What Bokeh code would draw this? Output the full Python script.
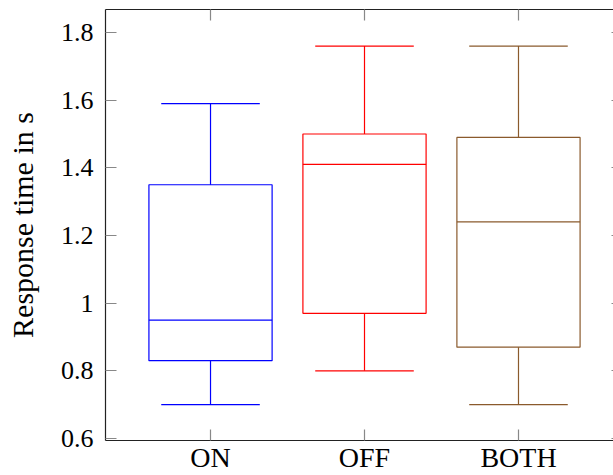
from bokeh.plotting import figure
from bokeh.models import Range1d, LinearAxis, FixedTicker
from bokeh.embed import file_html
from bokeh.resources import INLINE

categories = ["ON", "OFF", "BOTH"]
positions = [1, 2, 3]
lower_whisker = [0.70, 0.80, 0.70]
q1 = [0.83, 0.97, 0.87]
median = [0.95, 1.41, 1.24]
q3 = [1.35, 1.50, 1.49]
upper_whisker = [1.59, 1.76, 1.76]
colors = ["#0000ff", "#ff0000", "#8a5a2c"]
y_ticks = [0.6, 0.8, 1.0, 1.2, 1.4, 1.6, 1.8]
y_tick_labels = ["0.6", "0.8", "1", "1.2", "1.4", "1.6", "1.8"]

FONT = "Liberation Serif"
BOX_W = 0.8
CAP_W = 0.64

p = figure(width=613, height=475, output_backend="svg", toolbar_location=None,
           x_range=Range1d(0.318, 3.617), y_range=Range1d(0.594, 1.868),
           min_border_left=105, min_border_right=0, min_border_top=9,
           min_border_bottom=35, x_axis_location=None, y_axis_location=None)
p.outline_line_color = None
p.xgrid.visible = False
p.ygrid.visible = False
p.background_fill_color = "white"
p.border_fill_color = "white"

for i in range(len(categories)):
    x = positions[i]
    c = colors[i]
    p.vbar(x=[x], top=[q3[i]], bottom=[q1[i]], width=BOX_W,
           fill_color=None, line_color=c, line_width=1.2)
    p.segment(x0=[x - BOX_W / 2], x1=[x + BOX_W / 2], y0=[median[i]], y1=[median[i]],
              line_color=c, line_width=1.2)
    p.segment(x0=[x, x], x1=[x, x], y0=[q3[i], q1[i]], y1=[upper_whisker[i], lower_whisker[i]],
              line_color=c, line_width=1.2)
    p.segment(x0=[x - CAP_W / 2, x - CAP_W / 2], x1=[x + CAP_W / 2, x + CAP_W / 2],
              y0=[upper_whisker[i], lower_whisker[i]], y1=[upper_whisker[i], lower_whisker[i]],
              line_color=c, line_width=1.2)

def style(ax, fs="26px", labels=True):
    ax.axis_line_color = "#222222"
    ax.axis_line_width = 1.2
    ax.major_tick_line_color = "#888888"
    ax.major_tick_line_width = 1.2
    ax.major_tick_in = 11
    ax.major_tick_out = 0
    ax.minor_tick_line_color = None
    ax.major_label_text_font = FONT
    ax.major_label_text_font_size = fs
    ax.major_label_text_color = "black"
    if not labels:
        ax.major_label_standoff = 0

xb = LinearAxis(ticker=FixedTicker(ticks=positions),
                major_label_overrides={positions[i]: categories[i] for i in range(3)})
style(xb, fs="28px")
xb.major_label_standoff = 1
p.add_layout(xb, "below")

xt = LinearAxis(ticker=FixedTicker(ticks=positions),
                major_label_overrides={t: "" for t in positions})
style(xt, labels=False)
p.add_layout(xt, "above")

yl = LinearAxis(ticker=FixedTicker(ticks=y_ticks),
                major_label_overrides={y_ticks[i]: y_tick_labels[i] for i in range(len(y_ticks))},
                axis_label="Response time in s")
style(yl, fs="26px")
yl.major_label_standoff = 12
yl.axis_label_text_font = FONT
yl.axis_label_text_font_size = "30px"
yl.axis_label_text_font_style = "normal"
yl.axis_label_text_color = "black"
yl.axis_label_standoff = 19
p.add_layout(yl, "left")

yr = LinearAxis(ticker=FixedTicker(ticks=y_ticks),
                major_label_overrides={t: "" for t in y_ticks})
style(yr, labels=False)
yr.axis_line_color = None
yr.major_tick_in = 2
p.add_layout(yr, "right")

open("out.html", "w").write(file_html(p, INLINE))
